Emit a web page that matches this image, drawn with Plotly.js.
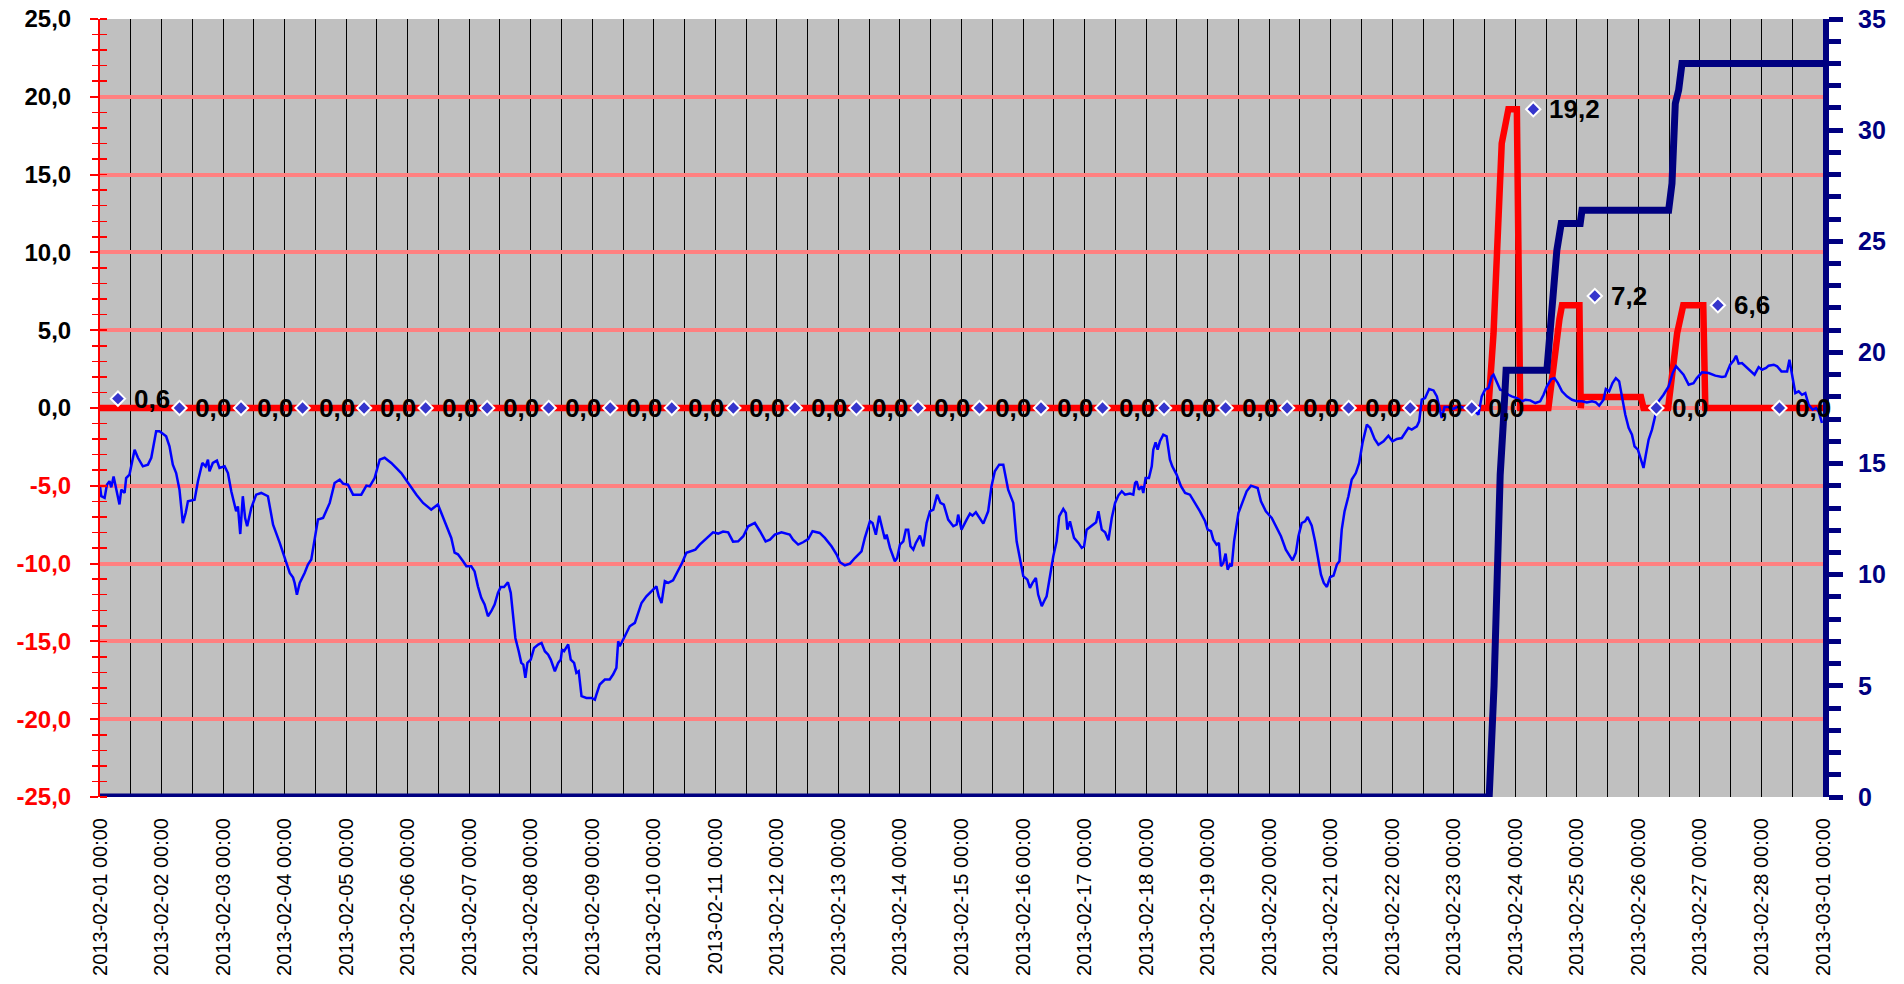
<!DOCTYPE html>
<html>
<head>
<meta charset="utf-8">
<script src="https://cdn.plot.ly/plotly-3.0.1.min.js"></script>
<style>html,body{margin:0;padding:0;background:#fff;}#chart{width:1904px;height:984px;}</style>
</head>
<body>
<div id="chart"></div>
<script>
// ---- DATA ----
// hours since 2013-02-01 00:00 and values (left axis)
const tempHours = [0.0,0.5,1.8,2.7,3.7,4.4,5.3,6.3,7.6,8.3,9.6,10.2,11.5,13.5,14.8,16.7,18.7,20.0,21.9,23.2,25.8,27.1,28.4,29.7,31.0,32.3,33.4,34.3,36.9,38.2,39.9,41.2,42.1,42.7,44.0,45.6,46.6,48.6,49.9,51.2,52.5,53.1,53.8,54.7,55.7,56.6,57.4,59.0,60.9,62.9,65.5,67.5,70.1,72.0,74.0,75.3,75.9,76.8,77.9,79.8,81.1,82.4,83.7,85.0,87.0,89.6,91.5,93.5,94.8,96.7,98.7,101.9,103.9,105.2,107.1,109.1,111.0,113.6,117.5,120.1,123.4,126.0,129.2,131.8,133.1,
134.4,135.7,137.0,138.3,139.6,141.6,142.9,144.8,146.1,147.4,148.7,150.0,151.3,152.6,153.9,155.2,156.3,157.6,159.1,160.2,161.1,162.0,163.3,164.3,165.1,165.9,166.7,168.0,169.3,170.9,172.2,173.5,174.8,175.8,177.4,178.7,179.7,180.2,181.0,182.6,183.6,184.9,185.8,186.7,187.8,189.7,191.7,193.0,193.6,194.9,196.9,198.8,200.1,201.4,202.1,202.7,204.7,206.6,208.6,209.9,211.2,213.1,215.1,217.0,217.9,219.0,220.3,221.6,223.5,225.5,227.0,228.7,230.7,232.2,233.9,235.9,237.8,239.1,241.1,243.0,245.0,246.9,248.9,250.9,252.8,255.4,257.4,259.6,261.3,263.2,265.8,
269.0,270.3,272.3,274.2,276.2,277.9,280.7,282.7,285.3,287.3,288.6,290.5,292.5,294.4,297.0,298.3,300.3,301.3,302.6,303.9,305.2,306.1,306.8,308.1,310.0,310.9,312.0,313.3,314.3,315.2,316.1,317.2,318.2,319.8,321.1,322.4,323.7,325.0,326.5,327.8,329.1,330.8,332.8,334.1,334.7,336.0,338.0,339.3,340.3,341.6,344.5,346.4,347.7,349.0,350.7,352.3,354.2,356.2,357.5,359.1,360.1,361.7,362.7,363.7,365.0,365.9,367.3,368.2,369.2,370.5,371.8,373.1,374.1,375.7,376.7,377.3,378.3,379.9,381.6,382.9,383.8,384.8,386.8,388.5,389.4,390.7,392.0,393.3,394.6,395.9,397.2,398.5,399.8,401.7,403.0,
403.7,404.3,405.2,406.3,406.9,407.8,409.1,410.2,410.8,411.7,412.5,413.4,414.7,416.0,417.3,418.2,419.9,421.6,423.2,425.1,427.1,429.0,431.0,432.0,433.3,434.2,435.5,436.4,437.2,438.1,439.0,439.8,440.7,441.4,442.3,444.0,445.5,447.2,448.9,451.5,452.8,454.7,457.0,458.9,460.6,462.5,463.8,465.1,466.4,467.4,468.7,470.0,471.0,472.6,473.9,475.2,476.2,477.3,478.5,479.8,481.1,482.4,483.4,484.3,485.4,486.9,488.2,489.8,491.1,492.4,494.1,495.4,497.1,498.6,500.6,502.5,504.1,505.8,507.7,510.3,511.6,513.6,514.5,515.5,516.8,518.4,520.1,521.4,522.3,523.3,524.4,525.9,527.9,529.2,531.1,533.1,535.0,
536.3,537.6,538.9,540.2,541.5,542.8,543.5,544.8,546.1,548.1,549.3,550.6,552.6,554.6,555.9,557.8,559.8,561.7,563.0,564.3,566.0,567.3,568.6,570.2,572.1,574.1,576.0,578.0,579.9,581.9,583.4,584.7,586.4,587.3,588.6,589.9,591.2,592.5,593.6,594.9,596.2,597.5,598.5,599.8,601.0,602.0,602.9,604.0,605.3,606.6,607.9,609.8,611.8,613.4,614.7,615.9,617.6,619.6,621.5,622.8,624.8,627.4,630.0,632.6,633.9,635.8,637.2,638.1,639.1,640.4,641.7,643.7,645.3,646.9,648.2,649.8,650.8,652.8,654.1,655.8,658.0,658.9,660.0,661.2,662.5,663.8,665.1,666.4,668.0,669.3,670.3,671.6];
const tempValues = [-5.03,-5.67,-5.78,-4.93,-4.7,-5.1,-4.4,-5.25,-6.2,-5.25,-5.46,-4.5,-4.28,-2.68,-3.2,-3.75,-3.64,-3.2,-1.5,-1.5,-1.82,-2.46,-3.64,-4.18,-5.25,-7.4,-6.75,-6.0,-5.9,-4.71,-3.53,-3.75,-3.32,-4.07,-3.53,-3.38,-3.85,-3.75,-4.18,-5.35,-6.32,-6.64,-6.32,-8.1,-5.67,-7.07,-7.6,-6.42,-5.57,-5.46,-5.67,-7.5,-8.67,-9.64,-10.6,-10.9,-11.24,-12.0,-11.24,-10.6,-10.06,-9.74,-8.57,-7.17,-7.07,-6.1,-4.82,-4.6,-4.86,-4.93,-5.57,-5.57,-4.99,-5.03,-4.5,-3.32,-3.2,-3.53,-4.18,-4.82,-5.57,-6.1,-6.53,-6.2,-6.75,
-7.17,-7.8,-8.35,-9.3,-9.4,-9.85,-10.17,-10.17,-10.5,-11.46,-12.2,-12.63,-13.38,-13.06,-12.63,-11.88,-11.5,-11.5,-11.2,-11.88,-13.6,-14.78,-15.63,-16.38,-16.49,-17.34,-16.38,-16.17,-15.42,-15.2,-15.1,-15.63,-15.85,-16.17,-16.92,-16.38,-16.17,-15.52,-15.63,-15.2,-16.17,-16.38,-17.02,-16.92,-18.52,-18.63,-18.63,-18.74,-18.42,-17.77,-17.45,-17.45,-17.13,-16.7,-14.99,-15.31,-14.67,-14.03,-13.81,-13.17,-12.53,-12.1,-11.78,-11.46,-12.1,-12.53,-11.13,-11.24,-11.07,-10.49,-9.96,-9.31,-9.21,-9.1,-8.78,-8.46,-8.14,-7.99,-8.07,-7.94,-7.99,-8.59,-8.57,-8.24,-7.6,-7.39,-7.92,-8.57,-8.46,-8.14,-7.99,
-8.14,-8.46,-8.78,-8.63,-8.42,-7.92,-8.03,-8.35,-8.89,-9.42,-9.91,-10.11,-10.0,-9.64,-9.21,-8.35,-7.28,-7.39,-8.14,-6.92,-7.71,-8.42,-8.14,-8.99,-9.85,-9.64,-8.78,-8.57,-7.82,-7.82,-8.89,-9.1,-8.67,-8.2,-8.89,-7.39,-6.64,-6.53,-5.57,-6.1,-6.21,-7.17,-7.6,-7.49,-6.85,-7.82,-7.17,-6.79,-6.92,-6.7,-7.43,-6.64,-5.03,-4.07,-3.64,-3.64,-5.25,-6.1,-8.57,-9.85,-10.81,-11.03,-11.56,-11.24,-10.92,-11.99,-12.74,-12.42,-12.1,-10.81,-9.53,-8.57,-6.96,-6.49,-6.75,-7.82,-7.28,-8.35,-8.67,-8.99,-8.89,-7.82,-7.56,-7.34,-6.64,-7.82,-7.99,-8.5,-7.07,-6.1,-5.61,-5.35,-5.57,-5.5,-5.57,
-4.82,-4.71,-5.25,-5.03,-5.46,-4.5,-4.5,-3.75,-2.68,-2.21,-2.68,-2.14,-1.71,-1.82,-3.32,-3.75,-4.28,-5.03,-5.46,-5.57,-6.1,-6.64,-7.28,-7.82,-7.92,-8.46,-8.78,-8.67,-10.17,-9.96,-9.36,-10.39,-10.06,-10.17,-8.57,-6.75,-6.1,-5.35,-4.99,-5.14,-6.0,-6.64,-7.07,-7.71,-8.24,-9.1,-9.42,-9.79,-9.31,-8.24,-7.39,-7.28,-7.0,-7.56,-8.57,-9.96,-10.71,-11.24,-11.5,-10.86,-10.77,-10.06,-9.85,-7.82,-6.64,-5.67,-4.6,-4.18,-3.53,-2.25,-1.07,-1.28,-1.99,-2.36,-2.14,-1.78,-2.14,-1.99,-1.93,-1.28,-1.39,-1.18,-0.86,0.54,0.64,1.22,1.13,0.75,0.11,-0.64,0.06,0.06,-0.06,0.06,0.06,-0.06,0.0,
-0.22,-0.43,0.75,1.18,1.28,2.03,2.14,1.6,1.18,1.07,0.85,0.75,0.64,0.43,0.53,0.49,0.32,0.43,0.85,1.39,1.86,1.92,1.6,1.07,0.75,0.53,0.43,0.43,0.36,0.43,0.36,0.15,0.53,1.22,1.07,1.6,1.92,1.71,0.75,-0.43,-1.28,-1.71,-2.46,-2.68,-3.32,-3.85,-3.0,-2.03,-1.39,-0.43,0.43,0.85,1.39,2.25,2.68,2.46,2.14,1.5,1.6,1.92,2.29,2.25,2.08,1.99,2.03,2.78,3.06,3.36,2.85,2.89,2.68,2.35,2.14,2.63,2.46,2.57,2.72,2.78,2.68,2.35,2.35,3.1,2.03,0.96,1.07,0.85,0.96,0.21,-0.11,0.0,-0.22,-0.96];

// thick red series (left axis)
const rainHours  = [0, 541.5, 543.5, 544.8, 545.4, 546.7, 548.0, 549.3, 552.6, 553.9, 564.9, 566.2, 568.2, 569.2, 570.2, 577.0, 577.5, 578.0, 601.0, 602.0, 611.6, 615.1, 617.5, 625.3, 626.1, 672];
const rainValues = [0,   0,     4.8,   9.5,   13.2,  17.0,  18.1,  19.2,  19.2,  0,     0,     2.0,   4.8,   5.7,   6.6,   6.6,   0,     0.7,   0.7,   0,     0,     4.8,   6.6,   6.6,   0,     0];

// thick navy cumulative series (right axis)
const cumHours  = [0, 541.8, 543.7, 544.9, 546.1, 547.3, 548.4, 564.3, 565.2, 566.6, 567.5, 568.2, 569.9, 577.3, 578.0, 611.8, 613.1, 613.7, 614.4, 615.7, 616.3, 617.0, 672];
const cumValues = [0, 0,     5,     10,    14.5,  16.8,  19.2,  19.2,  20.5,  22.2,  23.5,  24.6,  25.8,  25.8,  26.4,  26.4,  27.6,  29.6,  31.2,  31.8,  32.9,  33.0,  33.0];

// daily totals (one per day, 2013-02-01 .. 2013-02-28)
const dailyValues = [0.6,0,0,0,0,0,0,0,0,0,0,0,0,0,0,0,0,0,0,0,0,0,0,19.2,7.2,0,6.6,0];
const dailyHourOfDay = 7;

const leftTicks  = [-25,-20,-15,-10,-5,0,5,10,15,20,25];
const rightTicks = [0,5,10,15,20,25,30,35];

// ---- helpers ----
const T0 = Date.UTC(2013,1,1);
function toDate(h){ return new Date(T0 + h*3600000).toISOString().slice(0,19).replace('T',' '); }
function fmt1(v){ return v.toFixed(1).replace('.', ','); }

const FONT = 'Arial, "Liberation Sans", sans-serif';
const NAVY = '#000080';

const dailyX = dailyValues.map((v,i)=>toDate(24*i + dailyHourOfDay));

const traces = [
  {x: rainHours.map(toDate), y: rainValues, type:'scatter', mode:'lines',
   line:{color:'#FF0000', width:6.5}, xaxis:'x', yaxis:'y', hoverinfo:'skip'},
  {x: tempHours.map(toDate), y: tempValues, type:'scatter', mode:'lines',
   line:{color:'#0000FF', width:2.5}, xaxis:'x', yaxis:'y', hoverinfo:'skip'},
  {x: cumHours.map(toDate), y: cumValues, type:'scatter', mode:'lines',
   line:{color:NAVY, width:7}, xaxis:'x', yaxis:'y2', hoverinfo:'skip'},
  {x: dailyX, y: dailyValues, type:'scatter', mode:'markers',
   marker:{symbol:'diamond', size:11, color:'#3535CC', line:{color:'#FFFFFF', width:2}},
   xaxis:'x', yaxis:'y3', hoverinfo:'skip'}
];

const annotations = dailyValues.map((v,i)=>({
  x: dailyX[i], y: v, xref:'x', yref:'y3', text: fmt1(v), showarrow:false,
  xanchor:'left', yanchor:'middle', xshift: 14,
  font:{family:FONT, size:26, color:'#000000', weight:'bold'}
}));

const xRange = [toDate(0), toDate(672)];

const layout = {
  width:1904, height:984,
  margin:{l:100, r:81, t:19, b:187, pad:0},
  paper_bgcolor:'#FFFFFF', plot_bgcolor:'#C0C0C0',
  showlegend:false, separators:',.',
  font:{family:FONT},
  xaxis:{
    type:'date', range:xRange, tick0:toDate(0), dtick:86400000,
    tickformat:'%Y-%m-%d %H:%M', tickangle:-90,
    tickfont:{family:FONT, size:20, color:'#000000'},
    ticks:'', ticklabelstandoff:16,
    showgrid:true, gridcolor:'#000000', gridwidth:1,
    minor:{dtick:43200000, tick0:toDate(0), showgrid:true, gridcolor:'#000000', gridwidth:1, ticks:''},
    showline:false, zeroline:false, automargin:false
  },
  xaxis2:{
    type:'date', range:xRange, overlaying:'x', anchor:'free', position:0.5, side:'bottom',
    tick0:toDate(0), dtick:43200000, ticks:'outside', ticklen:5, tickwidth:3, tickcolor:'#FF8080',
    showticklabels:false, showgrid:false, zeroline:false, showline:false
  },
  yaxis:{
    range:[-25,25], tickmode:'array', tickvals:leftTicks,
    ticktext: leftTicks.map(v => v < 0 ? '<span style="color:#FF0000">'+fmt1(v)+'</span>' : fmt1(v)),
    tickfont:{family:FONT, size:24, color:'#000000', weight:'bold'},
    ticks:'outside', ticklen:8, tickwidth:2, tickcolor:'#FF0000', ticklabelstandoff:14,
    minor:{dtick:1, tick0:0, ticks:'outside', ticklen:6, tickwidth:1.5, tickcolor:'#FF0000', showgrid:false},
    showgrid:true, gridcolor:'#FF8080', gridwidth:4,
    showline:true, linecolor:'#FF0000', linewidth:2, zeroline:false, automargin:false
  },
  yaxis2:{
    range:[0,35], overlaying:'y', side:'right', tickmode:'array', tickvals:rightTicks,
    ticktext: rightTicks.map(v => String(v)),
    tickfont:{family:FONT, size:25, color:NAVY, weight:'bold'},
    ticks:'outside', ticklen:14, tickwidth:5, tickcolor:NAVY, ticklabelstandoff:10,
    minor:{dtick:1, tick0:0, ticks:'outside', ticklen:12, tickwidth:5, tickcolor:NAVY, showgrid:false},
    showgrid:false, zeroline:false, showline:true, linecolor:NAVY, linewidth:6, automargin:false
  },
  yaxis3:{
    range:[-25,25], overlaying:'y', side:'left', showticklabels:false, ticks:'',
    minor:{dtick:1, tick0:0, ticks:'inside', ticklen:7, tickwidth:1.5, tickcolor:'#FF0000', showgrid:false},
    showgrid:false, zeroline:false, showline:false
  },
  annotations: annotations
};

Plotly.newPlot('chart', traces, layout, {staticPlot:true, displayModeBar:false});
</script>
</body>
</html>
